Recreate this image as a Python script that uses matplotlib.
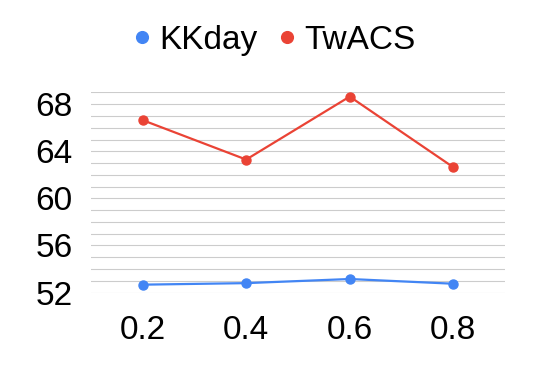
import matplotlib
matplotlib.use("Agg")
import matplotlib.pyplot as plt
from matplotlib.ticker import MultipleLocator, FixedLocator

plt.rcParams['font.family'] = ['Liberation Sans', 'DejaVu Sans']

categories = ['0.2', '0.4', '0.6', '0.8']
kkday = [52.67, 52.8, 53.15, 52.75]
twacs = [66.65, 63.3, 68.65, 62.65]
ytick_vals = [52, 56, 60, 64, 68]

fig = plt.figure(figsize=(5.54, 3.71), dpi=100)
ax = fig.add_axes([0.164, 0.2102, 0.7476, 0.5418])

x = range(len(categories))
ax.plot(x, kkday, color='#4285F4', lw=1.6, marker='o', ms=6.5, label='KKday')
ax.plot(x, twacs, color='#EA4335', lw=1.6, marker='o', ms=6.5, label='TwACS')

ax.set_xlim(-0.5, 3.5)
ax.set_ylim(51.96, 69.04)
ax.set_xticks(list(x))
ax.set_xticklabels(categories)
ax.yaxis.set_major_locator(FixedLocator(ytick_vals))
ax.yaxis.set_minor_locator(MultipleLocator(1))
ax.grid(axis='y', which='both', color='#cccccc', lw=0.8)
ax.set_axisbelow(True)
for s in ax.spines.values():
    s.set_visible(False)
ax.tick_params(axis='both', which='both', length=0, labelsize=24)
ax.tick_params(axis='y', pad=13)
ax.tick_params(axis='x', pad=16)

leg = fig.legend(loc='center', bbox_to_anchor=(0.497, 0.892), ncol=2, frameon=False,
                 fontsize=24, handlelength=0.4, handletextpad=0.3, columnspacing=0.7,
                 markerscale=1.3)
for h in leg.legend_handles:
    h.set_linestyle('none')

fig.savefig('out.png', dpi=100)
